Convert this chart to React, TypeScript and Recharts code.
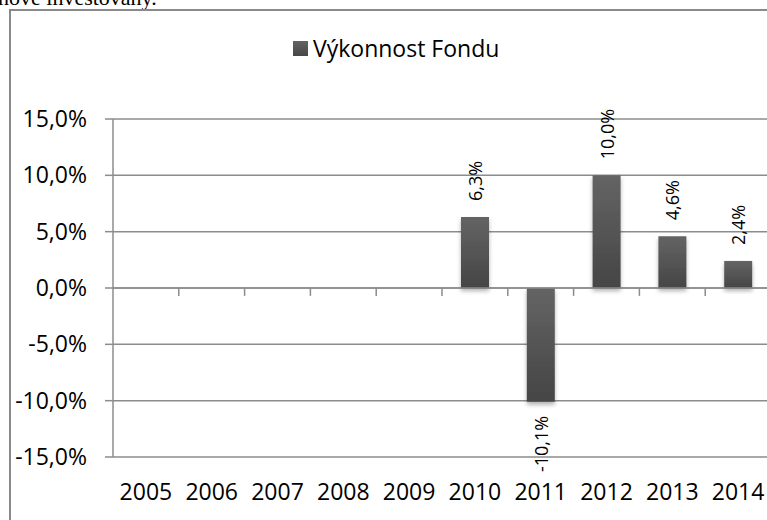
import * as React from "react";
import {
  Bar,
  BarChart,
  CartesianGrid,
  LabelList,
  Legend,
  ReferenceLine,
  XAxis,
  YAxis,
} from "recharts";

// Yearly fund performance (%), only 2010+ have values.
const YEARS = ["2005", "2006", "2007", "2008", "2009", "2010", "2011", "2012", "2013", "2014"];
const PERFORMANCE: (number | null)[] = [null, null, null, null, null, 6.3, -10.1, 10.0, 4.6, 2.4];
const Y_TICKS = [-15, -10, -5, 0, 5, 10, 15];
const SERIES_NAME = "Výkonnost Fondu";

const FONT = "'Open Sans', 'Noto Sans', sans-serif";
const GRID = "#8c8c8c";
const LEGEND_H = 40;
// depth of the between-category tick marks under the zero line, in % units
const TICK_DEPTH = 0.7;

const rows = YEARS.map((year, i) => ({
  pos: i + 0.5,
  year,
  value: PERFORMANCE[i],
}));
const centers = rows.map((r) => r.pos);
const boundaries = YEARS.map((_, i) => i + 1);

function pct(v: number): string {
  return `${v.toFixed(1).replace(".", ",")}%`;
}

function ValueLabel(props: any) {
  const { x, y, width, height, value } = props;
  if (value == null) return null;
  const v = Number(value);
  const cx = Number(x) + Number(width) / 2;
  const top = Math.min(Number(y), Number(y) + Number(height));
  const bottom = Math.max(Number(y), Number(y) + Number(height));
  const positive = v >= 0;
  const ay = positive ? top - 16 : bottom + 14;
  return (
    <text
      x={cx}
      y={ay}
      transform={`rotate(-90 ${cx} ${ay})`}
      textAnchor={positive ? "start" : "end"}
      dominantBaseline="central"
      fontFamily={FONT}
      fontSize={18}
      fill="#000"
    >
      {pct(v)}
    </text>
  );
}

function LegendContent() {
  return (
    <div
      style={{
        height: LEGEND_H,
        display: "flex",
        alignItems: "center",
        fontFamily: FONT,
        fontSize: 23,
        color: "#000",
      }}
    >
      <span
        style={{
          display: "inline-block",
          width: 15,
          height: 15,
          background: "linear-gradient(#636363, #474747)",
          marginRight: 5,
        }}
      />
      {SERIES_NAME}
    </div>
  );
}

export default function App() {
  return (
    <div
      style={{
        position: "absolute",
        left: 0,
        top: 0,
        width: 767,
        height: 520,
        overflow: "hidden",
        background: "#fff",
      }}
    >
      <div
        style={{
          position: "absolute",
          left: -2,
          top: -13,
          fontFamily: "'Liberation Serif', serif",
          fontSize: 22,
          lineHeight: 1,
          whiteSpace: "nowrap",
          color: "#000",
        }}
      >
        nově investovány.
      </div>
      <div
        style={{
          position: "absolute",
          left: 9,
          top: 9,
          width: 800,
          height: 600,
          borderLeft: "2px solid #8a8a8a",
          borderTop: "2px solid #8a8a8a",
        }}
      />
      <div style={{ position: "absolute", left: 0, top: 0 }}>
        <BarChart
          width={790}
          height={520}
          data={rows}
          margin={{ top: 119 - LEGEND_H, right: 19, left: 13, bottom: 23 }}
        >
          <defs>
            <linearGradient id="barFill" x1="0" y1="0" x2="0" y2="1">
              <stop offset="0%" stopColor="#646464" />
              <stop offset="100%" stopColor="#454545" />
            </linearGradient>
            <filter id="barShadow" x="-30%" y="-10%" width="160%" height="130%">
              <feDropShadow dx="0" dy="3" stdDeviation="2" floodColor="#000" floodOpacity="0.3" />
            </filter>
          </defs>
          <Legend
            verticalAlign="top"
            content={<LegendContent />}
            wrapperStyle={{ top: 28, left: 293, width: 320, height: LEGEND_H }}
          />
          <CartesianGrid vertical={false} stroke={GRID} strokeWidth={1.5} />
          <XAxis
            type="number"
            dataKey="pos"
            domain={[0, YEARS.length]}
            ticks={centers}
            interval={0}
            tickFormatter={(v: number) => YEARS[Math.floor(v)]}
            axisLine={false}
            tickLine={false}
            tickSize={0}
            tickMargin={27}
            height={40}
            tick={{ fontFamily: FONT, fontSize: 23, fill: "#000" }}
          />
          <YAxis
            domain={[-15, 15]}
            ticks={Y_TICKS}
            interval={0}
            tickFormatter={pct}
            width={100}
            tickSize={8}
            tickMargin={18}
            axisLine={{ stroke: GRID, strokeWidth: 1.5 }}
            tickLine={{ stroke: GRID, strokeWidth: 1.5 }}
            tick={{ fontFamily: FONT, fontSize: 23, fill: "#000" }}
          />
          <ReferenceLine y={0} stroke={GRID} strokeWidth={1.5} />
          {boundaries.map((b) => (
            <ReferenceLine
              key={b}
              segment={[
                { x: b, y: 0 },
                { x: b, y: -TICK_DEPTH },
              ]}
              stroke={GRID}
              strokeWidth={1.5}
            />
          ))}
          <Bar
            dataKey="value"
            name={SERIES_NAME}
            barSize={28}
            fill="url(#barFill)"
            filter="url(#barShadow)"
            isAnimationActive={false}
          >
            <LabelList dataKey="value" content={<ValueLabel />} />
          </Bar>
        </BarChart>
      </div>
    </div>
  );
}
